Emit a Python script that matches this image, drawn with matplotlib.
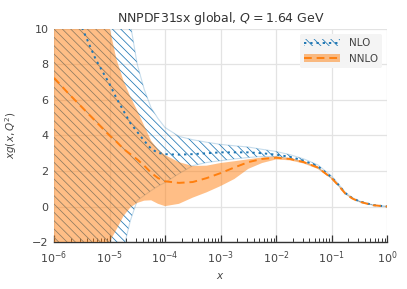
import matplotlib
matplotlib.use("Agg")
import matplotlib.pyplot as plt
from matplotlib.ticker import NullFormatter, LogLocator
import numpy as np

# log10(x) grid points
logx = [-6.0, -5.75, -5.5, -5.25, -5.0, -4.875, -4.75, -4.625, -4.5, -4.375,
        -4.25, -4.125, -4.0, -3.75, -3.5, -3.25, -3.0, -2.75, -2.5, -2.25,
        -2.0, -1.75, -1.5, -1.25, -1.0, -0.875, -0.75, -0.625, -0.5, -0.25, 0.0]

nlo_central = [14.0, 12.0, 10.1, 8.3, 6.9, 6.1, 5.4, 4.7, 4.2, 3.7,
               3.25, 3.02, 2.95, 2.92, 2.95, 3.0, 3.05, 3.05, 3.05, 3.0,
               2.92, 2.8, 2.58, 2.28, 1.65, 1.22, 0.75, 0.47, 0.29, 0.08, 0.0]
nlo_upper = [40.0, 32.0, 25.0, 20.0, 15.0, 13.0, 11.5, 10.3, 8.0, 6.6,
             5.55, 4.95, 4.45, 3.95, 3.76, 3.62, 3.5, 3.42, 3.35, 3.22,
             3.1, 2.92, 2.68, 2.35, 1.72, 1.27, 0.79, 0.5, 0.31, 0.09, 0.0]
nlo_lower = [-12.0, -10.0, -8.0, -6.0, -4.0, -3.2, -2.4, -0.8, 0.35, 0.62,
             0.9, 1.15, 1.35, 1.85, 2.3, 2.48, 2.58, 2.68, 2.76, 2.82,
             2.82, 2.7, 2.5, 2.2, 1.6, 1.18, 0.72, 0.45, 0.27, 0.07, 0.0]

nnlo_central = [7.25, 6.4, 5.6, 4.8, 4.0, 3.65, 3.25, 2.95, 2.65, 2.3,
                1.9, 1.6, 1.42, 1.33, 1.38, 1.6, 1.88, 2.2, 2.5, 2.68,
                2.75, 2.68, 2.5, 2.2, 1.6, 1.18, 0.72, 0.45, 0.27, 0.07, 0.0]
nnlo_upper = [30.0, 24.0, 18.0, 14.0, 10.1, 8.3, 7.1, 6.2, 5.4, 4.55,
              3.7, 3.2, 2.9, 2.5, 2.28, 2.3, 2.45, 2.55, 2.66, 2.76,
              2.82, 2.72, 2.55, 2.24, 1.64, 1.21, 0.74, 0.47, 0.28, 0.08, 0.0]
nnlo_lower = [-12.0, -9.5, -7.0, -4.5, -2.0, -1.3, -0.55, -0.05, 0.2, 0.33,
              0.35, 0.15, 0.02, 0.15, 0.5, 0.8, 1.15, 1.55, 2.12, 2.45,
              2.65, 2.6, 2.42, 2.12, 1.55, 1.14, 0.69, 0.43, 0.25, 0.06, 0.0]

labels = ["NLO", "NNLO"]
title = "NNPDF31sx global, $Q = 1.64$ GeV"
yticks = [-2, 0, 2, 4, 6, 8, 10]
xticks = [1e-6, 1e-5, 1e-4, 1e-3, 1e-2, 1e-1, 1e0]

x = np.power(10.0, logx)
blue = "#1f77b4"
orange = "#ff7f0e"
textc = "#333333"

plt.rcParams['hatch.linewidth'] = 0.55
plt.rcParams['font.family'] = ['DejaVu Sans']

fig = plt.figure(figsize=(4.07, 2.89), dpi=100)
ax = fig.add_axes([0.1327, 0.1626, 0.951 - 0.1327, 0.8997 - 0.1626])

p1 = ax.fill_between(x, nlo_lower, nlo_upper, facecolor="none", edgecolor=blue,
                     hatch="\\\\\\\\", linewidth=0.0, zorder=2)
ax.plot(x, nlo_upper, color=blue, alpha=0.25, lw=0.8, zorder=2)
ax.plot(x, nlo_lower, color=blue, alpha=0.25, lw=0.8, zorder=2)
p2 = ax.fill_between(x, nnlo_lower, nnlo_upper, facecolor=orange, alpha=0.5,
                     linewidth=0, zorder=3)
l1, = ax.plot(x, nlo_central, color=blue, ls=(0, (1.2, 2.0)), lw=1.4, zorder=4)
l2, = ax.plot(x, nnlo_central, color=orange, ls=(0, (4, 2.5)), lw=1.4, zorder=5)

ax.set_xscale("log")
ax.set_xlim(1e-6, 1)
ax.set_ylim(-2, 10)
ax.set_yticks(yticks)
ax.set_xticks(xticks)
ax.xaxis.set_minor_locator(LogLocator(base=10, subs=np.arange(2, 10), numticks=20))
ax.xaxis.set_minor_formatter(NullFormatter())

ax.grid(True, which="major", color="#e3e3e3", lw=0.9, zorder=0)
ax.set_axisbelow(True)
for s in ["top", "right", "left"]:
    ax.spines[s].set_visible(False)
ax.spines["bottom"].set_color("#333333")
ax.spines["bottom"].set_linewidth(1.0)

ax.tick_params(axis="x", which="major", direction="in", length=5, width=0.9,
               color="#333333", labelsize=8, labelcolor="#444444", pad=5)
ax.tick_params(axis="x", which="minor", direction="in", length=3, width=0.7,
               color="#333333", labelbottom=False)
ax.tick_params(axis="y", which="both", length=0, labelsize=8,
               labelcolor="#444444", pad=4)

ax.set_title(title, fontsize=9, color=textc, pad=5)
ax.set_xlabel("$x$", fontsize=7.5, color="#444444", labelpad=4)
ax.set_ylabel("$xg(x, Q^2)$", fontsize=7.5, color="#444444")
ax.yaxis.set_label_coords(-0.105, 0.5)

leg = ax.legend([(p1, l1), (p2, l2)], labels, loc="upper right", fontsize=7.5,
                frameon=True, facecolor="#f4f4f4", edgecolor="none",
                framealpha=1.0, handlelength=3.5, borderaxespad=0.5)
for t in leg.get_texts():
    t.set_color("#444444")

fig.savefig("out.png", dpi=100)
